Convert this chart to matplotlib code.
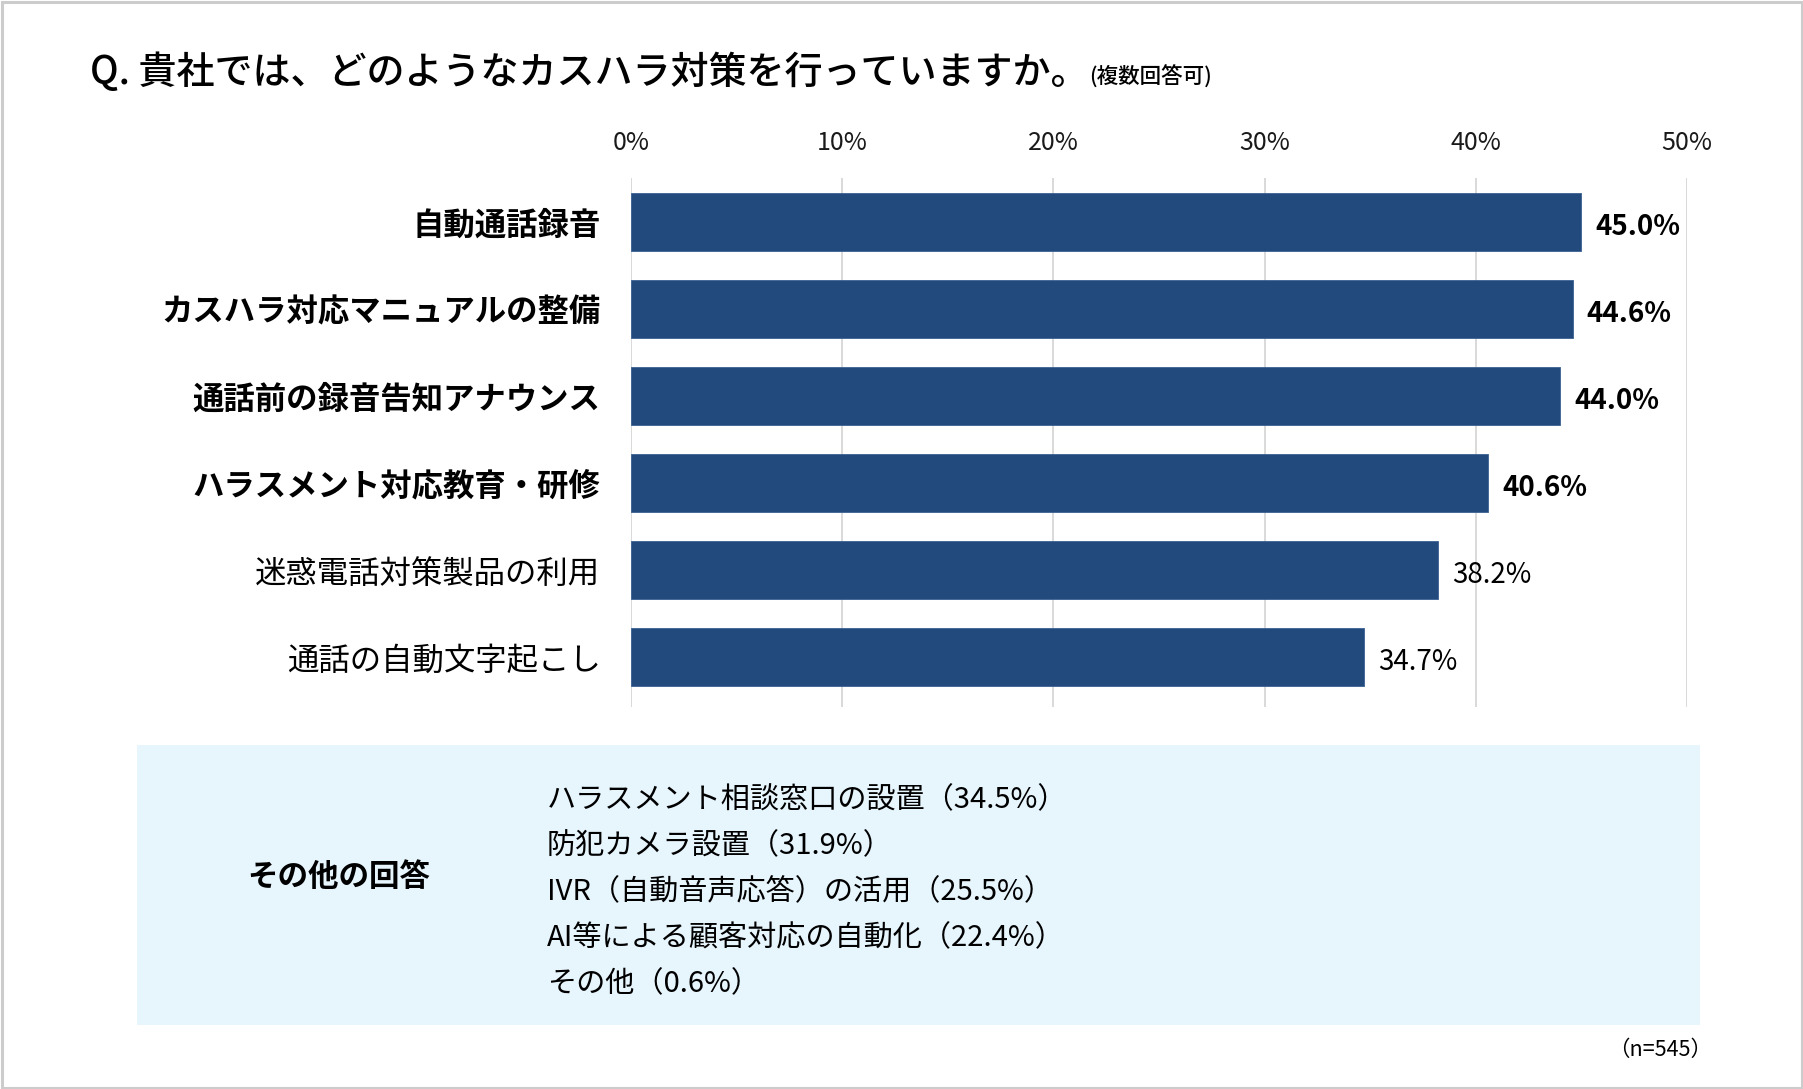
import matplotlib
matplotlib.use("Agg")
import matplotlib.pyplot as plt
from matplotlib.patches import Rectangle

plt.rcParams['font.family'] = ['Noto Sans CJK JP', 'DejaVu Sans']

# ---- data ----
categories = ["自動通話録音", "カスハラ対応マニュアルの整備", "通話前の録音告知アナウンス",
              "ハラスメント対応教育・研修", "迷惑電話対策製品の利用", "通話の自動文字起こし"]
values = [45.0, 44.6, 44.0, 40.6, 38.2, 34.7]
bold_flags = [True, True, True, True, False, False]
xticks = [0, 10, 20, 30, 40, 50]
xtick_labels = ["0%", "10%", "20%", "30%", "40%", "50%"]

other_title = "その他の回答"
other_labels = ["ハラスメント相談窓口の設置", "防犯カメラ設置", "IVR（自動音声応答）の活用",
                "AI等による顧客対応の自動化", "その他"]
other_values = [34.5, 31.9, 25.5, 22.4, 0.6]

title = "Q. 貴社では、どのようなカスハラ対策を行っていますか。"
subtitle = "(複数回答可)"
n_note = "（n=545）"

W, H = 1803, 1089
fig = plt.figure(figsize=(W / 100, H / 100), dpi=100)
fig.patch.set_facecolor("white")

# outer frame
fig.add_artist(Rectangle((1.5 / W, 1.5 / H), 1 - 3 / W, 1 - 3 / H, transform=fig.transFigure,
                         fill=False, edgecolor="#cccccc", linewidth=2.2))

# ---- bar chart ----
ax_left, ax_right = 631, 1687
ax_top, ax_bot = 178, 707
ax = fig.add_axes([ax_left / W, 1 - ax_bot / H, (ax_right - ax_left) / W, (ax_bot - ax_top) / H])
ypos = list(range(len(categories)))
bar_color = "#224A7C"
ax.barh(ypos, values, height=0.66, color=bar_color, edgecolor="#3a6193", linewidth=0.6, zorder=3)
ax.set_xlim(0, 50)
ax.set_ylim(5.575, -0.506)
ax.set_xticks(xticks)
ax.set_xticklabels(xtick_labels, fontsize=18, color="#1a1a1a")
ax.xaxis.tick_top()
ax.tick_params(axis='x', length=0, pad=16)
ax.set_yticks(ypos)
ax.set_yticklabels(categories, fontsize=22.6, color="#000000")
for lbl, b in zip(ax.get_yticklabels(), bold_flags):
    lbl.set_fontweight("bold" if b else "normal")
ax.tick_params(axis='y', length=0, pad=22)
ax.grid(axis='x', color="#d9d9d9", linewidth=1.4, zorder=0)
for s in ax.spines.values():
    s.set_visible(False)
ax.set_facecolor("none")

for y, v, b in zip(ypos, values, bold_flags):
    ax.annotate(f"{v:.1f}%", xy=(v, y), xytext=(10, -3.5), textcoords="offset points",
                va="center", ha="left", fontsize=20,
                fontweight="bold" if b else "normal", color="#000000")

# ---- title ----
t = fig.text(90 / W, 1 - 84 / H, title, fontsize=27.4, fontweight="medium",
             va="baseline", ha="left", color="#000000")
fig.canvas.draw()
bb = t.get_window_extent(renderer=fig.canvas.get_renderer())
fig.text((bb.x1 + 1) / W, 1 - 84 / H, subtitle, fontsize=15.5, fontweight="medium",
         va="baseline", ha="left", color="#000000")

# ---- other answers box ----
fig.add_artist(Rectangle((137 / W, 1 - 1025 / H), (1700 - 137) / W, (1025 - 745) / H,
                         transform=fig.transFigure, facecolor="#E7F5FD", edgecolor="none"))
fig.text(247 / W, 1 - 877 / H, other_title, fontsize=22, fontweight="bold",
         va="center", ha="left", color="#000000")
for i, (lab, val) in enumerate(zip(other_labels, other_values)):
    yy = 800 + i * 46
    fig.text(547 / W, 1 - yy / H, f"{lab}（{val:.1f}%）", fontsize=21,
             va="center", ha="left", color="#000000")

fig.text(1712 / W, 1 - 1050 / H, n_note, fontsize=15.5, va="center", ha="right", color="#000000")

fig.savefig("out.png", dpi=100, facecolor="white")
